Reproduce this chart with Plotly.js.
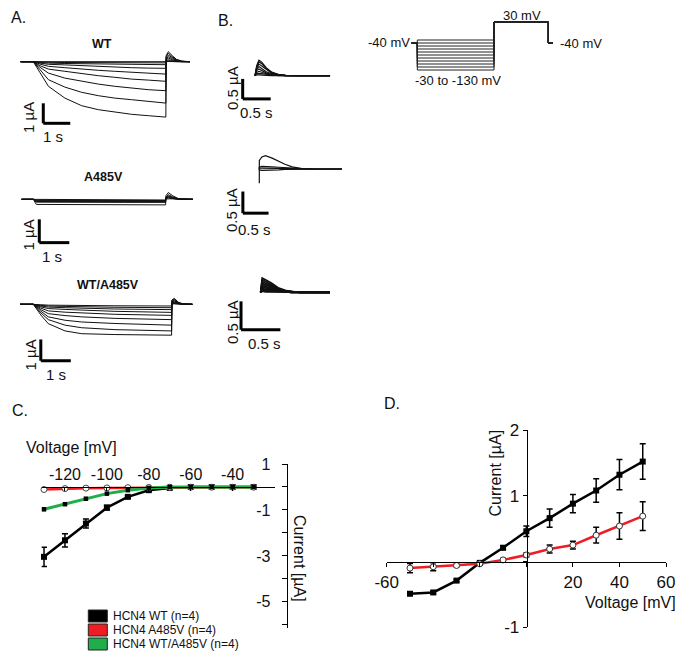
<!DOCTYPE html>
<html>
<head>
<meta charset="utf-8">
<script src="https://cdn.plot.ly/plotly-3.0.1.min.js"></script>
<style>html,body{margin:0;padding:0;background:#fff;}#chart{width:689px;height:664px;}</style>
</head>
<body>
<div id="chart"></div>
<script>
// ---------------- DATA ----------------
// Panel C: steady-state current vs voltage
const cVoltage = [-130,-120,-110,-100,-90,-80,-70,-60,-50,-40,-30];
const cWT      = [-3.04,-2.32,-1.59,-0.90,-0.43,-0.14,-0.04,0,0,0,0];
const cWTerr   = [0.42,0.29,0.20,0.10,0.05,0.03,0.02,0.01,0.01,0.01,0.01];
const cMut     = [-0.11,-0.07,-0.05,-0.04,-0.03,-0.02,-0.01,-0.01,-0.01,-0.01,-0.01];
const cMutErr  = [0.03,0.02,0.02,0.01,0.01,0.01,0.01,0.01,0.01,0.01,0.01];
const cHet     = [-0.97,-0.75,-0.51,-0.29,-0.14,-0.04,0,0,0,0,0];
const cHetErr  = [0.06,0.03,0.03,0.02,0.02,0.01,0.01,0,0,0,0];
const cTickVals = [-120,-100,-80,-60,-40];
const cTickText = ['-120','-100','-80','-60','-40'];
const cYTickVals = [1,0,-1,-2,-3,-4,-5,-6];
const cYTickText = ['1','','-1','','-3','','-5',''];
const legendNames = ['HCN4 WT (n=4)','HCN4 A485V (n=4)','HCN4 WT/A485V (n=4)'];

// Panel D: tail current vs voltage
const dVoltage = [-50,-40,-30,-20,-10,0,10,20,30,40,50];
const dWT      = [-0.49,-0.47,-0.29,-0.02,0.21,0.46,0.66,0.88,1.08,1.32,1.52];
const dWTerr   = [0.02,0.02,0.02,0.02,0.03,0.08,0.14,0.14,0.18,0.23,0.27];
const dMut     = [-0.10,-0.08,-0.06,-0.035,0.025,0.10,0.19,0.25,0.40,0.54,0.69];
const dMutErr  = [0.07,0.06,0.02,0.02,0.02,0.03,0.06,0.06,0.12,0.20,0.22];
const dTickVals = [-60,-40,-20,0,20,40,60];
const dTickText = ['-60','','','','20','40','60'];
const dYTickVals = [2,1,0,-1];
const dYTickText = ['2','1','','-1'];

// Panel A: current traces (s, µA)
const tWT = [-0.47,0,0.25,0.56,1.17,1.79,2.41,3.02,3.64,4.26,4.91,4.92,5.0,5.15,5.3,5.5,5.8];
const tracesWT = [
  [0,0,-0.55,-1.23,-1.82,-2.20,-2.40,-2.53,-2.63,-2.70,-2.77,0.30,0.50,0.30,0.12,0.03,0],
  [0,0,-0.40,-0.90,-1.27,-1.53,-1.70,-1.82,-1.90,-1.98,-2.07,0.25,0.42,0.25,0.10,0.02,0],
  [0,0,-0.28,-0.57,-0.82,-0.98,-1.12,-1.23,-1.32,-1.40,-1.45,0.20,0.33,0.20,0.08,0.02,0],
  [0,0,-0.20,-0.37,-0.48,-0.60,-0.70,-0.78,-0.87,-0.92,-0.98,0.15,0.25,0.15,0.06,0.01,0],
  [0,0,-0.12,-0.23,-0.30,-0.38,-0.43,-0.48,-0.53,-0.57,-0.62,0.10,0.18,0.10,0.04,0.01,0],
  [0,0,-0.07,-0.13,-0.16,-0.20,-0.24,-0.28,-0.30,-0.32,-0.33,0.06,0.10,0.06,0.02,0,0],
  [0,0,-0.04,-0.07,-0.09,-0.10,-0.11,-0.12,-0.13,-0.14,-0.15,0.03,0.05,0.03,0.01,0,0],
  [0,0,-0.02,-0.03,-0.04,-0.04,-0.05,-0.05,-0.06,-0.06,-0.06,0.01,0.02,0.01,0,0,0],
  [0,0,-0.01,-0.01,-0.02,-0.02,-0.02,-0.02,-0.03,-0.03,-0.03,0,0.01,0,0,0,0]
];
const tMut = [-0.39,0,0.1,1,2,3,4.41,4.42,4.5,4.65,4.85,5.32];
const tracesMut = [
  [0,0,-0.22,-0.23,-0.23,-0.24,-0.24,0.15,0.29,0.15,0.02,0],
  [0,0,-0.12,-0.13,-0.13,-0.13,-0.13,0.10,0.20,0.10,0.02,0],
  [0,0,-0.10,-0.10,-0.11,-0.11,-0.11,0.08,0.15,0.08,0.01,0],
  [0,0,-0.08,-0.08,-0.09,-0.09,-0.09,0.06,0.12,0.06,0.01,0],
  [0,0,-0.06,-0.06,-0.07,-0.07,-0.07,0.05,0.09,0.05,0.01,0],
  [0,0,-0.04,-0.04,-0.05,-0.05,-0.05,0.03,0.06,0.03,0,0],
  [0,0,-0.02,-0.02,-0.03,-0.03,-0.03,0.02,0.03,0.02,0,0]
];
const tHet = [-0.44,0,0.25,0.5,1.06,1.61,2.72,4.61,4.62,4.7,4.85,5.0,5.3];
const tracesHet = [
  [0,0,-0.50,-0.91,-1.25,-1.38,-1.42,-1.45,0.20,0.28,0.08,0.02,0],
  [0,0,-0.40,-0.72,-0.98,-1.10,-1.19,-1.25,0.18,0.24,0.07,0.02,0],
  [0,0,-0.32,-0.59,-0.75,-0.83,-0.90,-0.98,0.15,0.20,0.06,0.01,0],
  [0,0,-0.25,-0.44,-0.53,-0.59,-0.66,-0.72,0.12,0.16,0.05,0.01,0],
  [0,0,-0.18,-0.31,-0.37,-0.41,-0.47,-0.52,0.10,0.12,0.04,0,0],
  [0,0,-0.12,-0.20,-0.24,-0.28,-0.33,-0.38,0.07,0.09,0.03,0,0],
  [0,0,-0.08,-0.13,-0.16,-0.19,-0.22,-0.25,0.05,0.06,0.02,0,0],
  [0,0,-0.05,-0.08,-0.10,-0.12,-0.14,-0.16,0.03,0.04,0.01,0,0],
  [0,0,-0.02,-0.04,-0.05,-0.06,-0.07,-0.08,0.02,0.02,0,0,0]
];

// Panel B: tail current traces (s, µA)
const tTailWT = [0,0.03,0.07,0.12,0.2,0.3,0.42,0.55,0.8,1.34];
const tailsWT = [
  [0,0.25,0.39,0.34,0.20,0.09,0.03,0.01,0,0],
  [0,0.22,0.35,0.30,0.17,0.08,0.03,0.01,0,0],
  [0,0.20,0.29,0.24,0.14,0.06,0.02,0,0,0],
  [0,0.16,0.23,0.18,0.10,0.05,0.02,0,0,0],
  [0,0.13,0.17,0.13,0.07,0.03,0.01,0,0,0],
  [0,0.08,0.11,0.08,0.05,0.02,0.01,0,0,0],
  [0,0.05,0.06,0.05,0.03,0.01,0,0,0,0],
  [0,0.02,0.02,0.02,0.01,0,0,0,0,0]
];
const tTailMut = [0,0.001,0.05,0.12,0.25,0.38,0.5,0.64,0.83,1.1,1.61];
const tailsMut = [
  [-0.33,0.20,0.28,0.31,0.25,0.17,0.11,0.05,0.01,0,0],
  [0,0.04,0.06,0.06,0.05,0.04,0.03,0.02,0.01,0,0],
  [0,0.02,0.02,0.02,0.02,0.02,0.01,0.01,0,0,0],
  [0,-0.02,-0.03,-0.03,-0.02,-0.02,-0.01,-0.01,0,0,0]
];
const tTailHet = [0,0.02,0.06,0.14,0.22,0.31,0.39,0.5,0.88];
const tailsHet = [
  [0,0.25,0.22,0.16,0.08,0.035,0.01,0,0],
  [0,0.22,0.19,0.13,0.07,0.03,0.01,0,0],
  [0,0.19,0.16,0.11,0.06,0.025,0.01,0,0],
  [0,0.16,0.13,0.09,0.05,0.02,0.01,0,0],
  [0,0.13,0.10,0.07,0.04,0.015,0,0,0],
  [0,0.10,0.08,0.05,0.03,0.01,0,0,0],
  [0,0.07,0.05,0.035,0.02,0.01,0,0,0],
  [0,0.04,0.03,0.02,0.01,0,0,0,0],
  [0,0.02,0.01,0.01,0,0,0,0,0]
];

// Voltage protocol (s, mV)
const protoTime = [-0.37,0,0,5,5,8.54,8.54,8.83];
const protoHold = -40;
const protoStep = 30;
const protoLevels = [-30,-40,-50,-60,-70,-80,-90,-100,-110,-120,-130];

// ---------------- LAYOUT HELPERS ----------------
const W = 689, H = 664;
const FONT = 'Liberation Sans, Arial, Helvetica, sans-serif';
const px = x => x / W;
const py = y => 1 - y / H;
const ax = n => (n === 1 ? '' : String(n));

const layout = {
  width: W, height: H,
  margin: {l:0, r:0, t:0, b:0, pad:0},
  paper_bgcolor: '#ffffff',
  plot_bgcolor: 'rgba(0,0,0,0)',
  showlegend: false,
  font: {family: FONT, color: '#111', size: 14},
  shapes: [],
  annotations: []
};
const traces = [];

// mini (invisible) axes spanning whole figure: origin at pixel (ox, oy), pixel scale sx, sy
function miniAxes(n, ox, oy, sx, sy) {
  layout['xaxis' + ax(n)] = {domain:[0,1], anchor:'y' + ax(n), range:[-ox/sx, (W-ox)/sx], visible:false, fixedrange:true};
  layout['yaxis' + ax(n)] = {domain:[0,1], anchor:'x' + ax(n), range:[(oy-H)/sy, oy/sy], visible:false, fixedrange:true};
}
function addTraceSet(n, t, sets, width, color) {
  sets.forEach(arr => traces.push({
    x: t, y: arr, mode: 'lines', xaxis: 'x' + ax(n), yaxis: 'y' + ax(n),
    line: {color: color || '#111', width: width || 1}, hoverinfo: 'skip', cliponaxis: false
  }));
}
function scaleBar(n, t0, i0, dt, di) {
  const ln = {color:'#000', width:3};
  layout.shapes.push({type:'line', xref:'x'+ax(n), yref:'y'+ax(n), x0:t0, x1:t0, y0:i0, y1:i0+di, line:ln});
  layout.shapes.push({type:'line', xref:'x'+ax(n), yref:'y'+ax(n), x0:t0, x1:t0+dt, y0:i0, y1:i0, line:ln});
}
function ann(text, x, y, opt) {
  opt = opt || {};
  layout.annotations.push(Object.assign({
    text: text, xref:'paper', yref:'paper', x: px(x), y: py(y),
    xanchor: 'center', yanchor: 'middle', showarrow: false, borderpad: 0,
    font: {family: FONT, size: opt.size || 15, color: '#111'}
  }, opt.extra || {}));
}

// ---------------- PANEL A ----------------
miniAxes(3, 33.3, 61.7, 27, 20);
addTraceSet(3, tWT, tracesWT, 1);
scaleBar(3, 0.37, -3.08, 1, 1);
miniAxes(4, 33.3, 199.3, 30, 23.3);
addTraceSet(4, tMut, tracesMut, 1);
scaleBar(4, 0.2, -1.86, 1, 1);
miniAxes(5, 33.3, 304.3, 30, 21.3);
addTraceSet(5, tHet, tracesHet, 1);
scaleBar(5, 0.25, -2.65, 1, 1);

// ---------------- PANEL B ----------------
miniAxes(6, 255, 75.7, 56, 40);
addTraceSet(6, tTailWT, tailsWT, 1.2);
scaleBar(6, -0.22, -0.58, 0.5, 0.5);
miniAxes(7, 259.3, 169, 51.3, 43.3);
addTraceSet(7, tTailMut, tailsMut, 1.2);
scaleBar(7, -0.32, -1.02, 0.5, 0.5);
miniAxes(8, 260.7, 292.3, 78.7, 56.7);
addTraceSet(8, tTailHet, tailsHet, 1.8);
scaleBar(8, -0.25, -0.66, 0.5, 0.5);

// ---------------- PROTOCOL ----------------
miniAxes(9, 417.3, 31, 15.34, 0.3);
const protoSets = protoLevels.map(v => [protoHold, protoHold, v, v, protoStep, protoStep, protoHold, protoHold]);
addTraceSet(9, protoTime, protoSets, 1, '#222');

// ---------------- PANEL C ----------------
const RED = '#ee1d23', GREEN = '#1fae4a';
layout.xaxis = {
  domain:[px(41.7), px(275)], range:[-131.1, -19.8], anchor:'free', position: py(486.7), side:'top',
  showline:true, linecolor:'#000', linewidth:1.5, ticks:'inside', ticklen:3, tickcolor:'#000',
  tickvals:cTickVals, ticktext:cTickText, tickfont:{family:FONT, size:16, color:'#111'},
  showgrid:false, zeroline:false, fixedrange:true
};
layout.yaxis = {
  domain:[py(628.3), py(464)], range:[-6.15, 1.0], anchor:'free', position: px(286.7), side:'left',
  showline:true, linecolor:'#000', linewidth:1.5, ticks:'outside', ticklen:5, tickcolor:'#000',
  ticklabelstandoff: 8,
  tickvals:cYTickVals, ticktext:cYTickText, tickfont:{family:FONT, size:16, color:'#111'},
  showgrid:false, zeroline:false, fixedrange:true
};
traces.push({x:cVoltage, y:cWT, mode:'lines+markers', xaxis:'x', yaxis:'y', cliponaxis:false,
  line:{color:'#000', width:2.5}, marker:{symbol:'square', size:6, color:'#000'},
  error_y:{type:'data', array:cWTerr, color:'#000', thickness:1.5, width:3}});
traces.push({x:cVoltage, y:cMut, mode:'lines+markers', xaxis:'x', yaxis:'y', cliponaxis:false,
  line:{color:RED, width:2.5}, marker:{symbol:'circle', size:6, color:'#fff', line:{color:'#444', width:1}},
  error_y:{type:'data', array:cMutErr, color:'#000', thickness:1, width:2}});
traces.push({x:cVoltage, y:cHet, mode:'lines+markers', xaxis:'x', yaxis:'y', cliponaxis:false,
  line:{color:GREEN, width:3}, marker:{symbol:'square', size:4.5, color:'#000'},
  error_y:{type:'data', array:cHetErr, color:'#000', thickness:1, width:2}});

// ---------------- PANEL D ----------------
layout.xaxis2 = {
  domain:[px(386.7), px(666)], range:[-60, 60], anchor:'free', position: py(561.7), side:'bottom',
  showline:true, linecolor:'#000', linewidth:1.5, ticks:'outside', ticklen:4, tickcolor:'#000',
  tickvals:dTickVals, ticktext:dTickText, tickfont:{family:FONT, size:17, color:'#111'},
  showgrid:false, zeroline:false, fixedrange:true
};
layout.yaxis2 = {
  domain:[py(627.3), py(430)], range:[-1, 2], anchor:'free', position: px(526.7), side:'left',
  showline:true, linecolor:'#000', linewidth:1.5, ticks:'outside', ticklen:4, tickcolor:'#000',
  tickvals:dYTickVals, ticktext:dYTickText, tickfont:{family:FONT, size:17, color:'#111'},
  showgrid:false, zeroline:false, fixedrange:true
};
traces.push({x:dVoltage, y:dWT, mode:'lines+markers', xaxis:'x2', yaxis:'y2', cliponaxis:false,
  line:{color:'#000', width:2.5}, marker:{symbol:'square', size:6, color:'#000'},
  error_y:{type:'data', array:dWTerr, color:'#000', thickness:1.5, width:3}});
traces.push({x:dVoltage, y:dMut, mode:'lines+markers', xaxis:'x2', yaxis:'y2', cliponaxis:false,
  line:{color:RED, width:2.5}, marker:{symbol:'circle', size:6, color:'#fff', line:{color:'#333', width:1}},
  error_y:{type:'data', array:dMutErr, color:'#000', thickness:1.5, width:3}});

// ---------------- TEXT ----------------
ann('A.', 18, 17.5, {size:16});
ann('B.', 226, 20, {size:16});
ann('C.', 20, 410, {size:16});
ann('D.', 392, 403, {size:16});
ann('<b>WT</b>', 102, 43.5, {size:12.5});
ann('<b>A485V</b>', 103.5, 177, {size:12.5});
ann('<b>WT/A485V</b>', 108, 285, {size:12.5});
// scale bar labels
ann('1 µA', 28, 118, {size:15, extra:{textangle:-90}});
ann('1 s', 53, 136, {size:15});
ann('1 µA', 28.5, 235, {size:15, extra:{textangle:-90}});
ann('1 s', 52.5, 257, {size:15});
ann('1 µA', 29.5, 355, {size:15, extra:{textangle:-90}});
ann('1 s', 56, 374, {size:15});
ann('0.5 µA', 233, 88, {size:15, extra:{textangle:-90}});
ann('0.5 s', 256, 112.5, {size:15});
ann('0.5 µA', 232, 210, {size:15, extra:{textangle:-90}});
ann('0.5 s', 254, 229, {size:15});
ann('0.5 µA', 232, 322, {size:15, extra:{textangle:-90}});
ann('0.5 s', 264, 343, {size:15});
// protocol labels
ann('-40 mV', 411, 42.7, {size:13, extra:{xanchor:'right'}});
ann('30 mV', 521.7, 16, {size:13});
ann('-40 mV', 559, 43, {size:13, extra:{xanchor:'left'}});
ann('-30 to -130 mV', 458.3, 81, {size:13});
// panel C titles & legend
ann('Voltage [mV]', 25, 448, {size:16, extra:{xanchor:'left'}});
ann('Current [µA]', 300, 558, {size:16, extra:{textangle:90}});
const legColors = ['#000', RED, GREEN];
const legRows = [616, 630, 644];
legendNames.forEach((name, k) => {
  layout.shapes.push({type:'rect', xref:'paper', yref:'paper',
    x0:px(88.3), x1:px(107.3), y0:py(legRows[k]+6), y1:py(legRows[k]-6),
    fillcolor:legColors[k], line:{color:'#222', width:1}});
  ann(name, 111.7, legRows[k], {size:12, extra:{xanchor:'left'}});
});
// panel D titles
ann('Current [µA]', 495, 473.5, {size:16, extra:{textangle:-90}});
ann('Voltage [mV]', 630, 602, {size:16});

Plotly.newPlot('chart', traces, layout, {staticPlot:true, displayModeBar:false});
</script>
</body>
</html>
